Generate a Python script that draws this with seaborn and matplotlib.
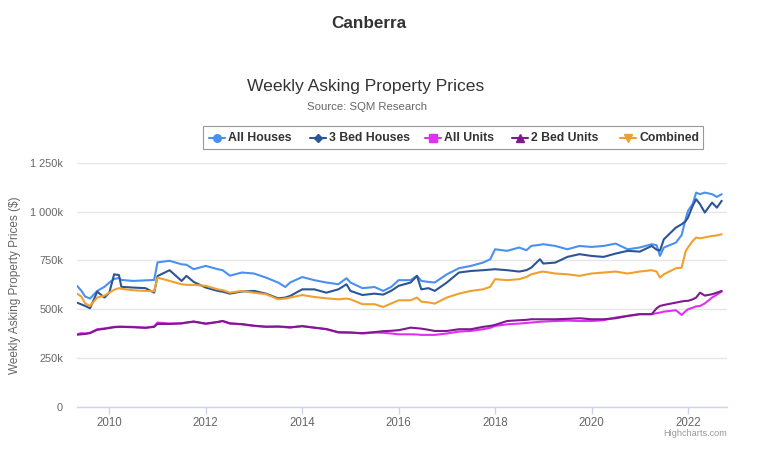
import matplotlib
matplotlib.use("Agg")
import matplotlib.pyplot as plt
import pandas as pd
import seaborn as sns
from matplotlib.lines import Line2D
from matplotlib.patches import Rectangle

# ---------------- data ----------------
years = [
    2009.33, 2009.42, 2009.5, 2009.6, 2009.75, 2009.9, 2010.0, 2010.1, 2010.2, 2010.25,
    2010.5, 2010.75, 2010.93, 2011.0, 2011.25, 2011.5, 2011.6, 2011.75, 2012.0, 2012.25,
    2012.35, 2012.5, 2012.75,
    2013.0, 2013.25, 2013.5, 2013.65, 2013.75, 2014.0, 2014.25, 2014.5, 2014.75, 2014.92,
    2015.0, 2015.25, 2015.5, 2015.68, 2015.85, 2016.0,
    2016.25, 2016.38, 2016.47, 2016.62, 2016.75, 2017.0, 2017.25, 2017.5, 2017.75, 2017.9,
    2018.0, 2018.25, 2018.5, 2018.65, 2018.75, 2018.93, 2019.0, 2019.25, 2019.5,
    2019.75, 2020.0, 2020.25, 2020.5, 2020.75, 2021.0, 2021.25, 2021.35, 2021.42, 2021.5,
    2021.75, 2021.87, 2021.95, 2022.0, 2022.1, 2022.17, 2022.25, 2022.35, 2022.5, 2022.6,
    2022.7,
]

all_houses = [
    620, 595, 565, 555, 594, 615, 637, 655, 660, 650, 645, 648, 650, 740, 748, 730, 728, 705, 722, 705, 700, 672, 688,
    683, 662, 637, 614, 637, 665, 649, 637, 628, 659, 637, 608, 614, 594, 615, 649,
    649, 671, 645, 640, 637, 679, 710, 722, 739, 756, 807, 799, 816, 802, 824, 830, 833, 824, 807,
    824, 819, 824, 836, 807, 816, 833, 828, 773, 816, 841, 880, 960, 1003, 1040, 1097, 1089, 1097, 1089, 1075, 1089,
]

three_bed_houses = [
    534, 525, 517, 505, 590, 560, 585, 679, 675, 615, 611, 608, 585, 670, 700, 645, 671, 640, 611, 594, 590, 580, 591,
    594, 580, 556, 560, 568, 602, 602, 585, 602, 628, 594, 573, 580, 575, 595, 620,
    637, 671, 602, 608, 594, 637, 688, 696, 700, 703, 705, 700, 693, 700, 713, 756, 734, 739, 768,
    782, 773, 768, 785, 799, 795, 824, 805, 800, 858, 918, 935, 950, 969, 1030, 1063, 1038, 995, 1046, 1020, 1055,
]

all_units = [
    372, 378, 376, 380, 398, 402, 406, 410, 411, 411, 410, 406, 412, 432, 427, 428, 432, 437, 425, 435, 440, 427, 423,
    415, 410, 411, 408, 406, 415, 406, 398, 381, 380, 381, 376, 381, 380, 376, 372,
    372, 371, 369, 369, 369, 376, 386, 389, 398, 405, 415, 423, 427, 430, 432, 436, 437, 440, 442,
    440, 440, 444, 458, 466, 475, 475, 480, 483, 488, 495, 471, 490, 500, 508, 515, 517, 530, 560, 575, 591,
]

two_bed_units = [
    370, 372, 374, 378, 395, 400, 404, 408, 410, 410, 408, 405, 410, 425, 425, 428, 432, 437, 427, 435, 440, 428, 424,
    416, 411, 412, 410, 408, 413, 406, 399, 383, 382, 381, 378, 383, 388, 390, 393,
    406, 403, 401, 395, 389, 389, 398, 398, 410, 415, 420, 440, 444, 446, 449, 449, 449, 449, 451,
    454, 449, 449, 454, 466, 475, 475, 505, 517, 522, 534, 540, 543, 543, 551, 560, 585, 570, 577, 585, 594,
]

combined = [
    580, 565, 530, 517, 560, 570, 585, 600, 608, 605, 597, 594, 592, 662, 645, 628, 625, 625, 620, 602, 598, 585, 594,
    585, 577, 551, 555, 560, 573, 563, 556, 551, 555, 551, 526, 526, 512, 530, 546,
    546, 560, 539, 535, 529, 560, 580, 594, 602, 615, 654, 649, 654, 665, 679, 690, 693, 683, 679,
    671, 683, 688, 693, 683, 693, 700, 693, 662, 679, 710, 713, 795, 816, 850, 867, 863, 868, 875, 878, 884,
]

series_names = ["All Houses", "3 Bed Houses", "All Units", "2 Bed Units", "Combined"]
series_values = [all_houses, three_bed_houses, all_units, two_bed_units, combined]
series_colors = ["#4a8ff2", "#2c5596", "#e030f2", "#7e1a8e", "#efa02e"]
series_markers = ["o", "D", "s", "^", "v"]

x_ticks = [2010, 2012, 2014, 2016, 2018, 2020, 2022]
y_ticks = [0, 250, 500, 750, 1000, 1250]
y_tick_labels = ["0", "250k", "500k", "750k", "1 000k", "1 250k"]

rows = []
for name, vals in zip(series_names, series_values):
    for yr, v in zip(years, vals):
        rows.append({"year": yr, "value": v, "series": name})
df = pd.DataFrame(rows)

# ---------------- styling ----------------
sns.set_theme(style="white")
plt.rcParams["font.family"] = ["Liberation Sans", "DejaVu Sans"]

W, H = 768, 449
fig = plt.figure(figsize=(W / 100, H / 100), dpi=100)
fig.patch.set_facecolor("white")


def fx(px):
    return px / W


def fy(py):
    return 1 - py / H


left, right, top, bottom = 77, 727, 162.7, 407
ax = fig.add_axes([fx(left), fy(bottom), (right - left) / W, (bottom - top) / H])

sns.lineplot(
    data=df, x="year", y="value", hue="series", hue_order=series_names,
    palette=dict(zip(series_names, series_colors)), linewidth=1.5,
    estimator=None, sort=False, legend=False, ax=ax,
)

ax.set_xlim(2009.33, 2022.81)
ax.set_ylim(0, 1250)
ax.set_yticks(y_ticks)
ax.set_yticklabels(y_tick_labels)
ax.set_xticks(x_ticks)
ax.set_xticklabels([str(t) for t in x_ticks])
ax.set_xlabel("")
ax.set_ylabel("")
ax.yaxis.grid(True, color="#e6e6e6", linewidth=1)
ax.xaxis.grid(False)
ax.set_axisbelow(True)
for s in ["top", "right", "left"]:
    ax.spines[s].set_visible(False)
ax.spines["bottom"].set_color("#ccd6eb")
ax.spines["bottom"].set_linewidth(1)
ax.tick_params(axis="x", direction="out", length=5, width=1, color="#ccd6eb",
               labelcolor="#666666", labelsize=8.3, pad=2, bottom=True)
ax.tick_params(axis="y", length=0, labelcolor="#666666", labelsize=7.9, pad=10)

# y axis title
fig.text(fx(15), fy(285), "Weekly Asking Property Prices ($)", rotation=90,
         ha="center", va="center", fontsize=8.5, color="#666666")

# titles
fig.text(fx(369), fy(24), "Canberra", ha="center", va="center",
         fontsize=12.3, fontweight="bold", color="#333333")
fig.text(fx(366), fy(86), "Weekly Asking Property Prices", ha="center", va="center",
         fontsize=12.6, color="#333333")
fig.text(fx(367), fy(107), "Source: SQM Research", ha="center", va="center",
         fontsize=8.2, color="#666666")

# credit
fig.text(fx(727), fy(433), "Highcharts.com", ha="right", va="center",
         fontsize=6.6, color="#999999")

# legend box
fig.add_artist(Rectangle((fx(203), fy(149)), 500 / W, 23 / H, transform=fig.transFigure,
                         fill=False, edgecolor="#999999", linewidth=0.8))
sym_x = [217, 318, 433, 520, 628]
ly = fy(138)
for name, col, mk, sx in zip(series_names, series_colors, series_markers, sym_x):
    fig.add_artist(Line2D([fx(sx - 8), fx(sx + 8)], [ly, ly], transform=fig.transFigure,
                          color=col, linewidth=1.5))
    fig.add_artist(Line2D([fx(sx)], [ly], transform=fig.transFigure, color=col,
                          marker=mk, markersize=5.5 if mk != "D" else 4.5, linestyle="none"))
    fig.text(fx(sx + 11), ly, name, ha="left", va="center", fontsize=8.8,
             fontweight="bold", color="#333333")

fig.savefig("out.png", dpi=100, facecolor="white")
